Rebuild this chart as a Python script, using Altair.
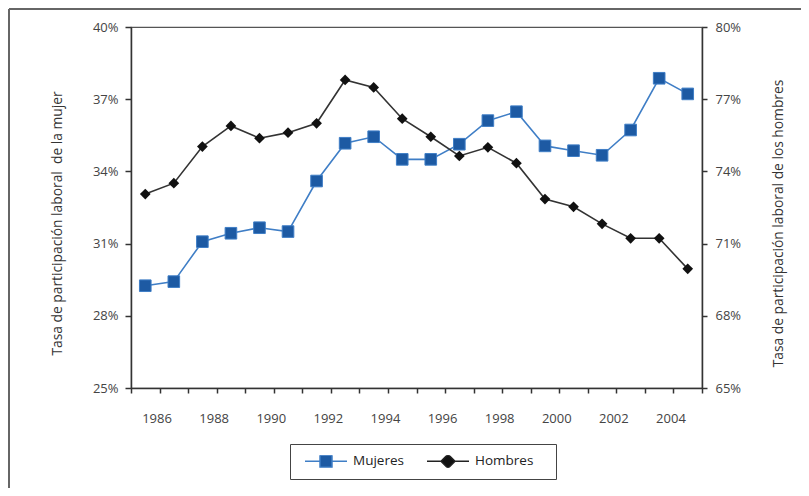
import altair as alt
import pandas as pd

years = list(range(1985, 2005))
mujeres = [29.25, 29.42, 31.08, 31.43, 31.66, 31.50, 33.60, 35.17, 35.44, 34.50,
           34.50, 35.13, 36.11, 36.48, 35.06, 34.86, 34.67, 35.72, 37.87, 37.22]
hombres = [73.06, 73.51, 75.03, 75.89, 75.38, 75.61, 76.00, 77.80, 77.49, 76.19,
           75.44, 74.64, 75.00, 74.34, 72.85, 72.53, 71.82, 71.22, 71.22, 69.95]
series_names = ["Mujeres", "Hombres"]
left_ticks = [25, 28, 31, 34, 37, 40]
right_ticks = [65, 68, 71, 74, 77, 80]
x_ticks = list(range(1985, 2006))
x_labels = [1986, 1988, 1990, 1992, 1994, 1996, 1998, 2000, 2002, 2004]

BLUE_FILL = "#1d5aa3"
BLUE_LINE = "#3f7ec6"
BLACK = "#111111"
FONT = "Open Sans"
NBSP = "\u00a0"

df = pd.DataFrame({"year": years, "mujeres": mujeres, "hombres": hombres})
legend_df = pd.DataFrame({"serie": series_names})
one = pd.DataFrame({"a": [0]})

label_expr = "indexof([" + ",".join(str(v) for v in x_labels) + "], datum.value) >= 0 ? '' + datum.value : ''"

x_enc = alt.X(
    "xpos:Q",
    scale=alt.Scale(domain=[1985, 2005], nice=False, zero=False),
    axis=alt.Axis(values=x_ticks, labelExpr=label_expr, title=None, grid=False,
                  tickSize=5, labelPadding=19, labelOffset=-3, labelFlush=False,
                  labelOverlap=False, domainColor="#333", tickColor="#333",
                  domainWidth=1.5, tickWidth=1.5),
)

base = alt.Chart(df).transform_calculate(xpos="datum.year + 0.5")

left_axis = alt.Axis(values=left_ticks, labelExpr="datum.value + '%'", grid=False,
                     title="Tasa de participación laboral" + NBSP + " de la mujer",
                     titleX=-74, titleY=196, titleAngle=270, titleAlign="center",
                     titleBaseline="middle", tickSize=6, labelPadding=7,
                     domainColor="#333", tickColor="#333", domainWidth=1.5, tickWidth=1.5)
right_axis = alt.Axis(values=right_ticks, labelExpr="datum.value + '%'", grid=False,
                      orient="right",
                      title="Tasa de participación laboral de los hombres",
                      titleX=76, titleY=196, titleAngle=270, titleAlign="center",
                      titleBaseline="middle", tickSize=5, labelPadding=8,
                      domainColor="#333", tickColor="#333", domainWidth=1.5, tickWidth=1.5)

y_m = alt.Y("mujeres:Q", scale=alt.Scale(domain=[25, 40], nice=False, zero=False), axis=left_axis)
y_h = alt.Y("hombres:Q", scale=alt.Scale(domain=[65, 80], nice=False, zero=False), axis=right_axis)

m_line = base.mark_line(color=BLUE_LINE, strokeWidth=1.6).encode(x=x_enc, y=y_m)
m_pts = base.mark_point(shape="square", size=135, filled=True, fill=BLUE_FILL,
                        stroke=BLUE_LINE, strokeWidth=1, opacity=1).encode(x=x_enc, y=y_m)
h_line = base.mark_line(color="#333", strokeWidth=1.6).encode(x=x_enc, y=y_h)
h_pts = base.mark_point(shape="diamond", size=115, filled=True, color=BLACK,
                        opacity=1).encode(x=x_enc, y=y_h)

SQ = "M-1,0H-0.286M0.286,0H1M-0.286,-0.286H0.286V0.286H-0.286Z"
DI = "M-1,0H-0.333M0.333,0H1M-0.333,0L0,-0.333L0.333,0L0,0.333Z"

leg = alt.Legend(title=NBSP, titleOrient="right", titlePadding=12, titleFontSize=13.5,
                 orient="none", legendX=159, legendY=417,
                 direction="horizontal", strokeColor="#444", fillColor="white",
                 padding=11, symbolOffset=3, symbolSize=1764, symbolStrokeWidth=1.5,
                 clipHeight=12, labelFont=FONT, labelFontSize=13.5, labelColor="#222",
                 labelOffset=5, columnPadding=19)

legend_layer = alt.Chart(legend_df).transform_filter("false").mark_point(
    filled=True, strokeWidth=1.5, opacity=1
).encode(
    fill=alt.Fill("serie:N", scale=alt.Scale(domain=series_names, range=[BLUE_FILL, BLACK]), legend=leg),
    stroke=alt.Stroke("serie:N", scale=alt.Scale(domain=series_names, range=[BLUE_LINE, "#222"]), legend=leg),
    shape=alt.Shape("serie:N", scale=alt.Scale(domain=series_names, range=[SQ, DI]), legend=leg),
)

frame_top = alt.Chart(one).mark_rule(color="#666", strokeWidth=2).encode(
    x=alt.value(-122), x2=alt.value(670), y=alt.value(-18))
frame_left = alt.Chart(one).mark_rule(color="#666", strokeWidth=2).encode(
    x=alt.value(-122), y=alt.value(-18), y2=alt.value(461))

chart = alt.layer(
    alt.layer(m_line, m_pts),
    alt.layer(h_line, h_pts),
    legend_layer,
    frame_top,
    frame_left,
).resolve_scale(y="independent").properties(
    width=571, height=361,
    autosize=alt.AutoSizeParams(type="none"),
    padding={"left": 123, "top": 19, "right": 99, "bottom": 100},
    background="white",
).configure_view(
    stroke="#555", strokeWidth=1.2, fill="#fdfdfb"
).configure_axis(
    labelFont=FONT, labelFontSize=13, labelColor="#444",
    titleFont=FONT, titleFontSize=13.8, titleColor="#333", titleFontWeight="normal",
)

chart.save("out.html", embed_options={"renderer": "svg", "actions": False})
